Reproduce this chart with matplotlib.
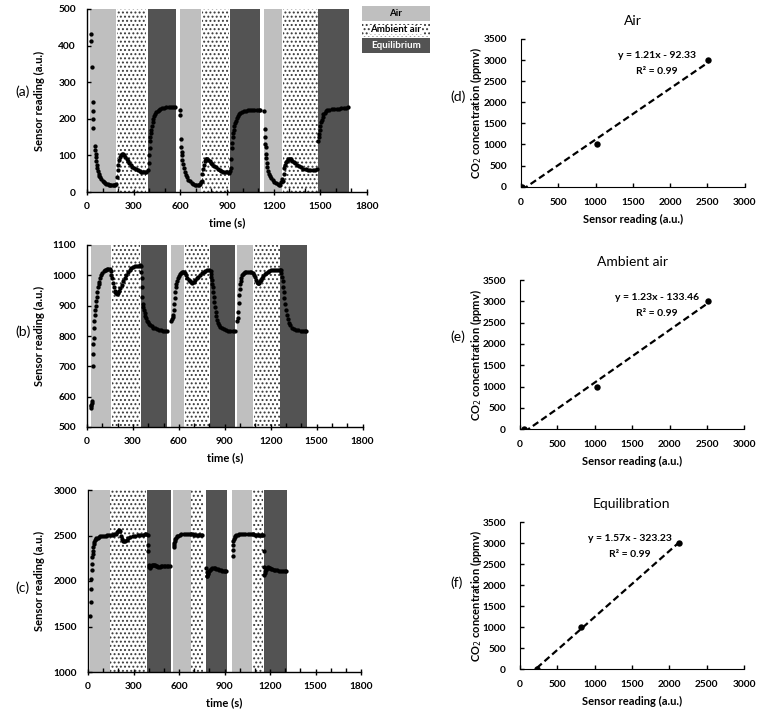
import numpy as np
import matplotlib
matplotlib.use("Agg")
import matplotlib.pyplot as plt
from matplotlib.patches import Rectangle
from matplotlib.ticker import MultipleLocator

plt.rcParams['font.family'] = ['Lato', 'DejaVu Sans']
plt.rcParams['hatch.linewidth'] = 0.9

# ---------------- data: time series panels ----------------
time_a = [24, 28, 30, 38, 38, 40, 40, 52, 54, 56, 58, 60, 63, 66, 70, 75, 80, 86, 92, 100, 108, 116, 124, 132, 140, 148, 156, 164, 172, 180, 188,
          194, 198, 202, 208, 214, 220, 226, 232, 238, 246, 254, 262, 272, 282, 292, 302, 314, 326, 338, 350, 362, 374, 382,
          392, 396, 399, 402, 405, 408, 411, 414, 418, 422, 426, 432, 438, 446, 454, 462, 472, 484, 496, 510, 524, 538, 552, 566,
          598, 600, 604, 606, 608, 610, 613, 617, 622, 628, 635, 643, 652, 662, 672, 682, 692, 702, 712, 720, 726, 731,
          738, 742, 746, 750, 756, 762, 768, 774, 780, 788, 796, 806, 816, 828, 840, 852, 864, 876, 888, 900, 912,
          920, 924, 928, 931, 934, 937, 940, 944, 948, 953, 958, 964, 970, 978, 986, 996, 1008, 1020, 1034, 1048, 1062, 1076, 1090, 1104, 1112,
          1139, 1143, 1145, 1147, 1149, 1151, 1153, 1156, 1160, 1165, 1171, 1178, 1186, 1195, 1205, 1215, 1225, 1235, 1243, 1248, 1252,
          1260, 1264, 1268, 1272, 1278, 1284, 1290, 1296, 1302, 1310, 1318, 1328, 1338, 1350, 1362, 1376, 1390, 1405, 1420, 1435, 1450, 1465, 1478,
          1487, 1490, 1493, 1496, 1500, 1504, 1508, 1514, 1520, 1528, 1536, 1546, 1558, 1572, 1588, 1604, 1620, 1636, 1652, 1668, 1680]
reading_a = [432, 412, 342, 246, 222, 199, 175, 125, 114, 105, 96, 85, 75, 66, 58, 50, 45, 40, 35, 31, 28, 25, 23, 21, 20, 19, 18, 18, 18, 19, 21,
             40, 60, 75, 88, 96, 101, 103, 103, 100, 95, 89, 84, 78, 73, 69, 65, 62, 59, 57, 56, 55, 55, 55,
             60, 80, 100, 120, 140, 150, 160, 170, 180, 190, 200, 207, 213, 218, 222, 225, 227, 229, 230, 231, 231, 231, 232, 232,
             224, 210, 146, 123, 110, 100, 88, 76, 65, 55, 47, 40, 34, 29, 25, 22, 20, 19, 18, 18, 22, 28,
             30, 50, 62, 75, 84, 89, 91, 90, 88, 84, 80, 76, 72, 68, 64, 61, 58, 56, 55, 54, 53,
             58, 65, 90, 120, 135, 150, 160, 170, 180, 188, 195, 202, 207, 212, 215, 218, 220, 222, 223, 224, 224, 225, 225, 225, 225,
             220, 172, 150, 132, 122, 105, 92, 80, 68, 58, 50, 43, 37, 32, 28, 25, 22, 20, 20, 28, 36,
             30, 50, 65, 75, 82, 86, 89, 91, 91, 89, 86, 82, 78, 74, 70, 67, 64, 62, 61, 60, 60, 61, 64,
             140, 150, 158, 170, 180, 190, 198, 206, 212, 217, 221, 223, 225, 226, 227, 228, 228, 229, 230, 230, 231]

time_b = [24, 26, 28, 30, 32, 36, 40, 42, 44, 46, 48, 50, 53, 56, 60, 64, 68, 72, 76, 80, 86, 92, 100, 108, 116, 124, 132, 140, 148, 156, 160,
          165, 170, 175, 180, 186, 192, 198, 204, 210, 218, 226, 236, 246, 256, 266, 278, 290, 302, 314, 326, 338, 346,
          353, 356, 358, 360, 362, 365, 368, 372, 376, 381, 386, 392, 398, 406, 414, 424, 434, 446, 458, 470, 484, 498, 512, 522,
          552, 556, 560, 564, 567, 570, 573, 576, 580, 584, 589, 594, 600, 606, 613, 620, 627, 632,
          640, 648, 656, 664, 672, 680, 688, 696, 706, 716, 726, 738, 750, 762, 774, 786, 798,
          807, 810, 813, 816, 819, 822, 825, 828, 832, 836, 840, 845, 850, 856, 862, 870, 880, 892, 906, 920, 936, 952, 966,
          982, 985, 988, 991, 994, 997, 1000, 1004, 1008, 1013, 1018, 1025, 1033, 1042, 1052, 1062, 1072, 1082,
          1090, 1096, 1102, 1108, 1114, 1120, 1126, 1132, 1138, 1145, 1152, 1160, 1170, 1180, 1192, 1204, 1216, 1228, 1240, 1252, 1258,
          1266, 1270, 1274, 1278, 1282, 1286, 1290, 1295, 1300, 1306, 1312, 1320, 1328, 1338, 1350, 1364, 1380, 1396, 1412, 1426, 1434]
reading_b = [568, 563, 572, 585, 580, 700, 740, 773, 795, 825, 850, 870, 885, 900, 915, 930, 945, 960, 970, 978, 990, 1000, 1008, 1013, 1016, 1018, 1020, 1020, 1020, 1015, 1000,
             990, 975, 960, 950, 945, 942, 940, 942, 948, 958, 968, 980, 992, 1002, 1010, 1018, 1024, 1028, 1030, 1031, 1032, 1033,
             1030, 1010, 990, 960, 930, 905, 895, 885, 875, 866, 858, 851, 845, 840, 836, 832, 828, 825, 822, 820, 819, 818, 818, 818,
             850, 855, 862, 870, 885, 905, 925, 945, 960, 972, 982, 990, 998, 1004, 1008, 1010, 1012, 1012,
             1008, 1000, 992, 985, 980, 977, 976, 978, 983, 990, 996, 1002, 1007, 1011, 1014, 1016, 1017,
             1015, 1005, 995, 985, 972, 960, 945, 930, 912, 895, 880, 865, 853, 843, 836, 830, 826, 823, 820, 818, 817, 817, 817,
             850, 860, 880, 910, 935, 955, 970, 982, 992, 1000, 1005, 1008, 1010, 1011, 1012, 1012, 1011, 1008,
             1000, 993, 985, 978, 975, 974, 976, 980, 985, 992, 998, 1004, 1008, 1012, 1014, 1016, 1017, 1018, 1018, 1019, 1019,
             1018, 1008, 995, 980, 962, 945, 925, 905, 885, 868, 855, 843, 835, 828, 824, 821, 819, 818, 818, 818, 818]

time_c = [15, 18, 20, 22, 24, 26, 29, 31, 33, 35, 38, 40, 44, 50, 56, 64, 72, 82, 92, 104, 116, 128, 140,
          150, 162, 174, 186, 194, 200, 206, 212, 218, 224, 230, 236, 244, 254, 266, 280, 296, 312, 328, 344, 360, 376, 384,
          393, 395, 397, 400, 403, 406, 410, 415, 420, 426, 432, 440, 448, 456, 464, 472, 480, 490, 500, 510, 520, 530, 540,
          565, 567, 569, 572, 576, 580, 586, 594, 604, 616, 630, 645, 660, 674,
          682, 692, 702, 712, 722, 732, 742, 752,
          780, 782, 784, 787, 790, 794, 800, 806, 812, 820, 828, 836, 846, 856, 866, 876, 886, 896, 906, 912,
          953, 955, 957, 959, 962, 966, 971, 978, 986, 996, 1008, 1022, 1038, 1054, 1070, 1082,
          1090, 1100, 1110, 1120, 1130, 1140, 1150,
          1157, 1159, 1161, 1163, 1165, 1168, 1172, 1177, 1182, 1188, 1194, 1200, 1208, 1216, 1226, 1236, 1248, 1260, 1272, 1284, 1296, 1308]
reading_c = [1613, 1771, 1917, 2017, 2119, 2185, 2266, 2300, 2332, 2376, 2410, 2431, 2450, 2462, 2470, 2478, 2485, 2490, 2495, 2498, 2500, 2502, 2505,
             2505, 2508, 2512, 2520, 2535, 2550, 2560, 2545, 2500, 2460, 2440, 2435, 2440, 2455, 2470, 2482, 2492, 2500, 2505, 2508, 2510, 2512, 2512,
             2505, 2400, 2330, 2180, 2150, 2140, 2150, 2165, 2175, 2180, 2178, 2172, 2166, 2160, 2158, 2158, 2160, 2162, 2163, 2162, 2160, 2160, 2160,
             2375, 2395, 2420, 2440, 2460, 2475, 2490, 2500, 2510, 2515, 2518, 2520, 2520, 2518,
             2515, 2512, 2510, 2510, 2508, 2508, 2508, 2508,
             2140, 2100, 2050, 2060, 2075, 2090, 2110, 2125, 2135, 2142, 2145, 2142, 2135, 2128, 2122, 2118, 2115, 2113, 2112, 2112,
             2280, 2340, 2400, 2440, 2465, 2480, 2492, 2502, 2510, 2515, 2518, 2520, 2520, 2518, 2516, 2515,
             2512, 2510, 2510, 2508, 2508, 2508, 2508,
             2505, 2335, 2150, 2065, 2090, 2110, 2125, 2138, 2145, 2150, 2148, 2143, 2137, 2130, 2124, 2120, 2116, 2114, 2112, 2112, 2112, 2112]

# gas phases (start, end, kind) for each time-series panel
phase_kinds = ['Air', 'Ambient air', 'Equilibrium'] * 3
phase_start_a = [22, 193, 389, 597, 737, 919, 1138, 1259, 1484]
phase_end_a = [189, 382, 571, 732, 915, 1113, 1252, 1482, 1682]
phase_start_b = [24, 164, 352, 549, 639, 805, 980, 1089, 1264]
phase_end_b = [160, 346, 525, 632, 800, 969, 1085, 1260, 1435]
phase_start_c = [11, 148, 392, 562, 680, 778, 952, 1088, 1159]
phase_end_c = [143, 385, 544, 676, 755, 914, 1084, 1152, 1315]

legend_labels = ['Air', 'Ambient air', 'Equilibrium']

# ---------------- data: calibration panels ----------------
cal_titles = ['Air', 'Ambient air', 'Equilibration']
cal_reading_d = [15, 1020, 2510]
cal_reading_e = [60, 1030, 2510]
cal_reading_f = [225, 815, 2130]
cal_conc = [0, 1000, 3000]
fit_slope = [1.21, 1.23, 1.57]
fit_intercept = [-92.33, -133.46, -323.23]
fit_r2 = [0.99, 0.99, 0.99]

# ---------------- drawing ----------------
W, H = 759, 712
fig = plt.figure(figsize=(W / 100, H / 100), dpi=100)

def fr(l, t, r, b):
    return [l / W, 1 - b / H, (r - l) / W, (b - t) / H]

light = '#bfbfbf'
dark = '#535353'
hatch_col = '#3a3a3a'
TICK_FS = 7.3
lab_kw = dict(fontsize=8, fontweight='bold')

def shade(ax, kind, s, e):
    if kind == 'Air':
        ax.axvspan(s, e, facecolor=light, edgecolor='none', zorder=1)
    elif kind == 'Equilibrium':
        ax.axvspan(s, e, facecolor=dark, edgecolor='none', zorder=1)
    else:
        ax.axvspan(s, e, facecolor='white', edgecolor=hatch_col, hatch='....',
                   linewidth=0, zorder=1)

def style_ticks(ax):
    for lbl in ax.get_xticklabels() + ax.get_yticklabels():
        lbl.set_fontsize(TICK_FS)
        lbl.set_fontweight('bold')

def place_labels(ax, px_rect, ylab_right_px, xlab_top_gap_px):
    l, t, r, b = px_rect
    ax.yaxis.set_label_coords((ylab_right_px - l) / (r - l), 0.5)
    ax.xaxis.set_label_coords(0.5, -xlab_top_gap_px / (b - t))

def time_panel(px_rect, t, v, starts, ends, ylim, ystep, letter, letter_y):
    ax = fig.add_axes(fr(*px_rect))
    for k, s, e in zip(phase_kinds, starts, ends):
        shade(ax, k, s, e)
    ax.plot(t, v, 'o', color='black', markersize=3.1, markeredgewidth=0, zorder=3)
    ax.set_xlim(0, 1800)
    ax.set_ylim(*ylim)
    ax.xaxis.set_major_locator(MultipleLocator(300))
    ax.xaxis.set_minor_locator(MultipleLocator(100))
    ax.yaxis.set_major_locator(MultipleLocator(ystep))
    for sp in ['top', 'right']:
        ax.spines[sp].set_visible(False)
    for sp in ['left', 'bottom']:
        ax.spines[sp].set_linewidth(1.0)
        ax.spines[sp].set_zorder(4)
    ax.tick_params(axis='x', which='major', direction='inout', length=5, width=1, pad=5)
    ax.tick_params(axis='x', which='minor', direction='in', length=3, width=1)
    ax.tick_params(axis='y', direction='in', length=3, width=1, pad=8)
    style_ticks(ax)
    ax.set_xlabel('time (s)', **lab_kw)
    ax.set_ylabel('Sensor reading (a.u.)', **lab_kw)
    place_labels(ax, px_rect, 45, 25)
    fig.text(15 / W, 1 - letter_y / H, letter, fontsize=10, ha='left', va='center')
    return ax

time_panel((87, 9, 367, 192), time_a, reading_a, phase_start_a, phase_end_a, (0, 500), 100, '(a)', 92)
time_panel((87, 245, 362.5, 427), time_b, reading_b, phase_start_b, phase_end_b, (500, 1100), 100, '(b)', 332)
time_panel((88, 490, 361, 672), time_c, reading_c, phase_start_c, phase_end_c, (1000, 3000), 500, '(c)', 588)

# legend block
lax = fig.add_axes(fr(362, 5, 430, 54))
lax.set_xlim(0, 1)
lax.set_ylim(0, 3)
lax.axis('off')
leg_face = [light, 'white', dark]
for i, (lab, fc) in enumerate(zip(legend_labels, leg_face)):
    y0 = 2 - i
    if lab == 'Ambient air':
        lax.add_patch(Rectangle((0, y0 + 0.04), 1, 0.92, facecolor='white', edgecolor=hatch_col,
                                hatch='....', linewidth=0))
    else:
        lax.add_patch(Rectangle((0, y0 + 0.04), 1, 0.92, facecolor=fc, edgecolor='none'))
    lax.text(0.5, y0 + 0.5, lab, ha='center', va='center', fontsize=7, fontweight='bold',
             color='white' if lab == 'Equilibrium' else 'black',
             bbox=dict(facecolor='white', edgecolor='none', pad=0.3) if lab == 'Ambient air' else None)

def cal_panel(px_rect, x, title, slope, icpt, r2, letter, letter_y, eq_xy):
    ax = fig.add_axes(fr(*px_rect))
    xs = np.array([min(x), max(x)], dtype=float)
    ax.plot(xs, slope * xs + icpt, '--', color='black', linewidth=1.6, dashes=(3, 1.6), zorder=2)
    ax.plot(x, cal_conc, 'o', color='black', markersize=4.6, markeredgewidth=0, zorder=3)
    ax.set_xlim(0, 3000)
    ax.set_ylim(0, 3500)
    ax.xaxis.set_major_locator(MultipleLocator(500))
    ax.yaxis.set_major_locator(MultipleLocator(500))
    for sp in ['top', 'right']:
        ax.spines[sp].set_visible(False)
    ax.tick_params(direction='in', length=3, width=1)
    ax.tick_params(axis='x', pad=8)
    ax.tick_params(axis='y', pad=10)
    style_ticks(ax)
    ax.set_xlabel('Sensor reading (a.u.)', **lab_kw)
    ax.set_ylabel('CO$_2$ concentration (ppmv)', **lab_kw)
    place_labels(ax, px_rect, 484, 27)
    ax.set_title(title, fontsize=10, pad=10)
    sign = '-' if icpt < 0 else '+'
    ax.text(eq_xy[0], eq_xy[1], f'y = {slope:.2f}x {sign} {abs(icpt):.2f}', ha='center', va='center',
            fontsize=7.5, fontweight='bold')
    ax.text(eq_xy[0], eq_xy[1] - 380, f'R² = {r2:.2f}', ha='center', va='center',
            fontsize=7.5, fontweight='bold')
    fig.text(450 / W, 1 - letter_y / H, letter, fontsize=10, ha='left', va='center')

cal_panel((521, 39, 744.7, 186.7), cal_reading_d, cal_titles[0], fit_slope[0], fit_intercept[0], fit_r2[0], '(d)', 97, (1820, 3100))
cal_panel((520, 280, 744.3, 429.3), cal_reading_e, cal_titles[1], fit_slope[1], fit_intercept[1], fit_r2[1], '(e)', 337, (1830, 3094))
cal_panel((520, 522.3, 744, 669.3), cal_reading_f, cal_titles[2], fit_slope[2], fit_intercept[2], fit_r2[2], '(f)', 583, (1470, 3103))

fig.savefig('out.png', dpi=100)
